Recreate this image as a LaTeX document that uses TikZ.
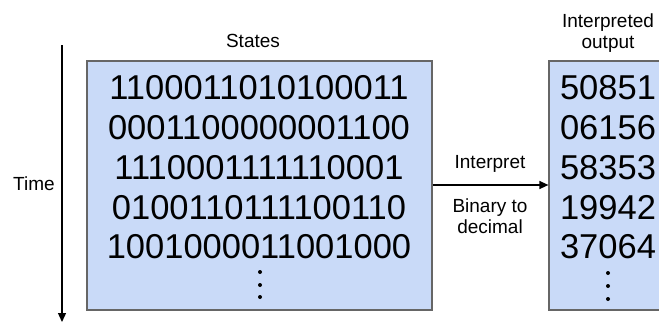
\documentclass[tikz,border=0pt]{standalone}
\usepackage{fontspec}
\setmainfont{Liberation Sans}
\usetikzlibrary{arrows.meta}
\definecolor{boxfill}{HTML}{C9DAF8}
\definecolor{boxline}{HTML}{666666}
\tikzset{
  panel/.style={draw=boxline, line width=1.2pt, fill=boxfill, inner sep=0pt},
  big/.style={font=\fontsize{34.5}{40}\selectfont, align=center, inner sep=0pt},
  small/.style={font=\fontsize{19}{21}\selectfont, align=center, inner sep=0pt},
  conn/.style={line width=1.3pt, -{Triangle[length=9pt,width=8pt]}},
  dot/.style={fill=black}
}
\begin{document}
\begin{tikzpicture}[x=1pt,y=-1pt]
\useasboundingbox (0,0) rectangle (659,322);
% boxes
\node[panel, minimum width=345pt, minimum height=249pt] (states) at (259.5,185.5) {};
\node[panel, minimum width=130pt, minimum height=249pt] (out) at (614,185.5) {};
% binary rows
\node[big] (b1) at (259,88) {1100011010100011};
\node[big] (b2) at (259,128) {0001100000001100};
\node[big] (b3) at (259,168) {1110001111110001};
\node[big] (b4) at (259,208) {0100110111100110};
\node[big] (b5) at (259,247) {1001000011001000};
\foreach \yy in {272,285,297} \fill[dot] (260,\yy) circle (2pt);
% decimal rows
\node[big] (d1) at (608,88) {50851};
\node[big] (d2) at (608,128) {06156};
\node[big] (d3) at (608,168) {58353};
\node[big] (d4) at (608,208) {19942};
\node[big] (d5) at (608,247) {37064};
\foreach \yy in {273,286,299} \fill[dot] (608,\yy) circle (2pt);
% labels
\node[small] (lstates) at (253,41) {States};
\node[small] (lout) at (608,33) {Interpreted\\output};
\node[small] (ltime) at (34,184) {Time};
\node[small] (linterp) at (490,164) {Interpret};
\node[small] (lbin) at (490,216) {Binary to\\decimal};
% arrows
\coordinate (tA) at (62,45);
\coordinate (tB) at (62,322);
\draw[conn] (tA) -- (tB);
\draw[conn] (states.east |- 0,185) -- (out.west |- 0,185);
\end{tikzpicture}
\end{document}
